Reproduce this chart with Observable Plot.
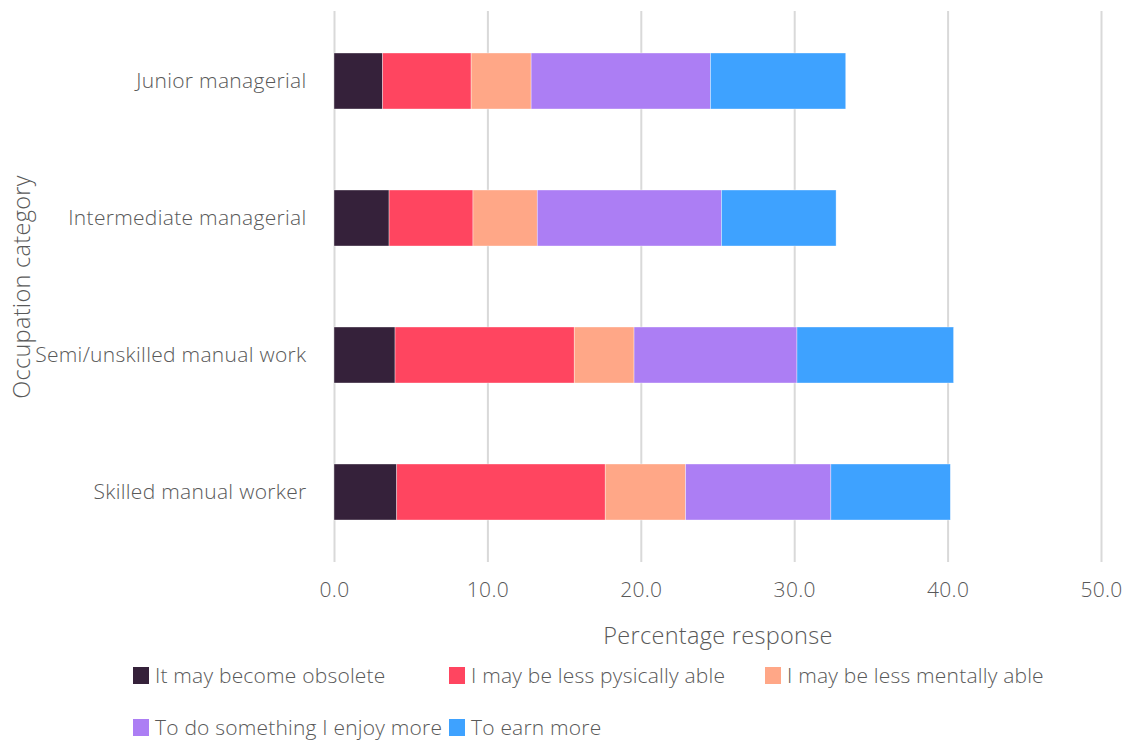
<!DOCTYPE html>
<html>
<head>
<meta charset="utf-8">
<script src="https://cdn.jsdelivr.net/npm/d3@7"></script>
<script src="https://cdn.jsdelivr.net/npm/@observablehq/plot@0.6"></script>
<style>
  html, body { margin: 0; padding: 0; background: #fff; }
  #wrap { position: relative; width: 1125px; height: 740px; font-family: "Open Sans", Lato, sans-serif; font-weight: 300; color: #595959; }
  #legend { position: absolute; left: 133px; top: 662px; display: grid; grid-template-columns: 316px 316px 316px; grid-auto-rows: 52px; font-size: 21px; letter-spacing: 0.2px; }
  .item { display: flex; align-items: center; height: 26px; white-space: nowrap; }
  .sw { width: 16px; height: 17px; margin-right: 6px; flex: none; }
</style>
</head>
<body>
<div id="wrap"><div id="chart"></div><div id="legend"></div></div>
<script>
const categories = ["Junior managerial", "Intermediate managerial", "Semi/unskilled manual work", "Skilled manual worker"];
const reasons = ["It may become obsolete", "I may be less pysically able", "I may be less mentally able", "To do something I enjoy more", "To earn more"];
const colors = ["#35213A", "#FF4560", "#FFA787", "#AC7EF4", "#3EA2FF"];
const obsolete   = [3.17, 3.59, 3.98, 4.09];
const physically = [5.77, 5.47, 11.68, 13.59];
const mentally   = [3.91, 4.19, 3.90, 5.24];
const enjoy      = [11.69, 12.01, 10.62, 9.47];
const earn       = [8.82, 7.47, 10.21, 7.79];
const xTicks = [0, 10, 20, 30, 40, 50];

const series = [obsolete, physically, mentally, enjoy, earn];
const rows = [];
reasons.forEach((r, i) => categories.forEach((c, j) => rows.push({category: c, reason: r, value: series[i][j]})));

const chart = Plot.plot({
  width: 1125,
  height: 655,
  marginLeft: 334,
  marginRight: 24,
  marginTop: 11,
  marginBottom: 93,
  style: {fontFamily: "'Open Sans', Lato, sans-serif", fontWeight: 300, fontSize: "21px", letterSpacing: "0.3px", color: "#595959", background: "white"},
  x: {domain: [0, 50], ticks: xTicks, tickFormat: d3.format(".1f"), tickSize: 0, tickPadding: 20,
      label: "Percentage response", labelAnchor: "center", labelArrow: "none", labelOffset: 81},
  y: {domain: categories, paddingInner: 0.59, paddingOuter: 0.295, tickSize: 0, tickPadding: 28,
      label: "Occupation category", labelAnchor: "center", labelArrow: "none", labelOffset: 321},
  color: {domain: reasons, range: colors},
  marks: [
    Plot.ruleX(xTicks, {stroke: "#d9d9d9", strokeWidth: 2}),
    Plot.barX(rows, Plot.stackX({x: "value", y: "category", fill: "reason", order: reasons, stroke: "white", strokeWidth: 0.6, strokeOpacity: 0.6}))
  ]
});
chart.querySelectorAll("g[aria-label='x-axis label'] text, g[aria-label='y-axis label'] text").forEach(t => t.style.fontSize = "23.5px");
document.getElementById("chart").appendChild(chart);

const legend = document.getElementById("legend");
reasons.forEach((r, i) => {
  const it = document.createElement("div");
  it.className = "item";
  it.innerHTML = `<span class="sw" style="background:${colors[i]}"></span><span>${r}</span>`;
  legend.appendChild(it);
});
</script>
</body>
</html>
